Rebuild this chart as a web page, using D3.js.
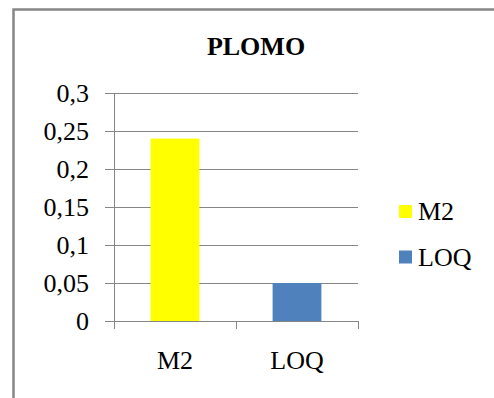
<!DOCTYPE html>
<html>
<head>
<meta charset="utf-8">
<script src="https://cdn.jsdelivr.net/npm/d3@7"></script>
</head>
<body style="margin:0">
<svg id="chart" width="494" height="398"></svg>
<script>
// Lead (plomo) concentration: sample M2 against the limit of quantification
const categories = ["M2", "LOQ"];
const values = [0.24, 0.05];
const colors = ["#FFFF00", "#4F81BD"];
const yTicks = [0, 0.05, 0.1, 0.15, 0.2, 0.25, 0.3];
const title = "PLOMO";

const FONT = "Liberation Serif";
const svg = d3.select("#chart");

// Chart frame
svg.append("rect")
  .attr("x", 13.5).attr("y", 9.5)
  .attr("width", 500).attr("height", 400)
  .attr("fill", "#fff")
  .attr("stroke", "#868686")
  .attr("stroke-width", 2.5);

const plot = { left: 114, right: 358, top: 93, bottom: 321 };

const x = d3.scaleBand()
  .domain(categories)
  .range([plot.left, plot.right])
  .paddingInner(0.6)
  .paddingOuter(0.3);

const y = d3.scaleLinear()
  .domain([0, 0.3])
  .range([plot.bottom, plot.top]);

const fmt = d => d3.format("")(d).replace(".", ",");

// Gridlines
svg.append("g")
  .selectAll("line")
  .data(yTicks)
  .join("line")
  .attr("x1", plot.left - 9)
  .attr("x2", plot.right)
  .attr("y1", d => Math.round(y(d)) + 0.5)
  .attr("y2", d => Math.round(y(d)) + 0.5)
  .attr("stroke", "#868686")
  .attr("stroke-width", 1);

// Y axis labels
svg.selectAll("text.ytick")
  .data(yTicks)
  .join("text")
  .attr("class", "ytick")
  .attr("x", 89)
  .attr("y", d => y(d) + 9)
  .attr("text-anchor", "end")
  .attr("font-size", 26)
  .style("font-family", FONT)
  .text(fmt);

// Bars
svg.append("g")
  .selectAll("rect")
  .data(categories)
  .join("rect")
  .attr("x", d => x(d))
  .attr("width", x.bandwidth())
  .attr("y", (d, i) => y(values[i]))
  .attr("height", (d, i) => y(0) - y(values[i]))
  .attr("fill", (d, i) => colors[i]);

// Y axis line
svg.append("line")
  .attr("x1", plot.left + 0.5).attr("x2", plot.left + 0.5)
  .attr("y1", plot.top).attr("y2", plot.bottom + 8)
  .attr("stroke", "#868686");

// Category separators on the x axis
const seps = d3.range(categories.length + 1)
  .map(i => plot.left + i * (plot.right - plot.left) / categories.length);
svg.append("g")
  .selectAll("line")
  .data(seps)
  .join("line")
  .attr("x1", d => Math.round(d) + 0.5)
  .attr("x2", d => Math.round(d) + 0.5)
  .attr("y1", plot.bottom)
  .attr("y2", plot.bottom + 8)
  .attr("stroke", "#868686");

// Category labels
svg.selectAll("text.xlabel")
  .data(categories)
  .join("text")
  .attr("class", "xlabel")
  .attr("x", d => x(d) + x.bandwidth() / 2)
  .attr("y", 369)
  .attr("text-anchor", "middle")
  .attr("font-size", 26)
  .style("font-family", FONT)
  .text(d => d);

// Title
svg.append("text")
  .attr("x", 256)
  .attr("y", 55)
  .attr("text-anchor", "middle")
  .attr("font-size", 26)
  .attr("font-weight", "bold")
  .style("font-family", FONT)
  .text(title);

// Legend
svg.selectAll("rect.key")
  .data(categories)
  .join("rect")
  .attr("class", "key")
  .attr("x", 399)
  .attr("y", (d, i) => 205 + i * 45.5)
  .attr("width", 13).attr("height", 13)
  .attr("fill", (d, i) => colors[i]);

svg.selectAll("text.keylabel")
  .data(categories)
  .join("text")
  .attr("class", "keylabel")
  .attr("x", 418)
  .attr("y", (d, i) => 220 + i * 45.5)
  .attr("font-size", 26)
  .style("font-family", FONT)
  .text(d => d);
</script>
</body>
</html>
